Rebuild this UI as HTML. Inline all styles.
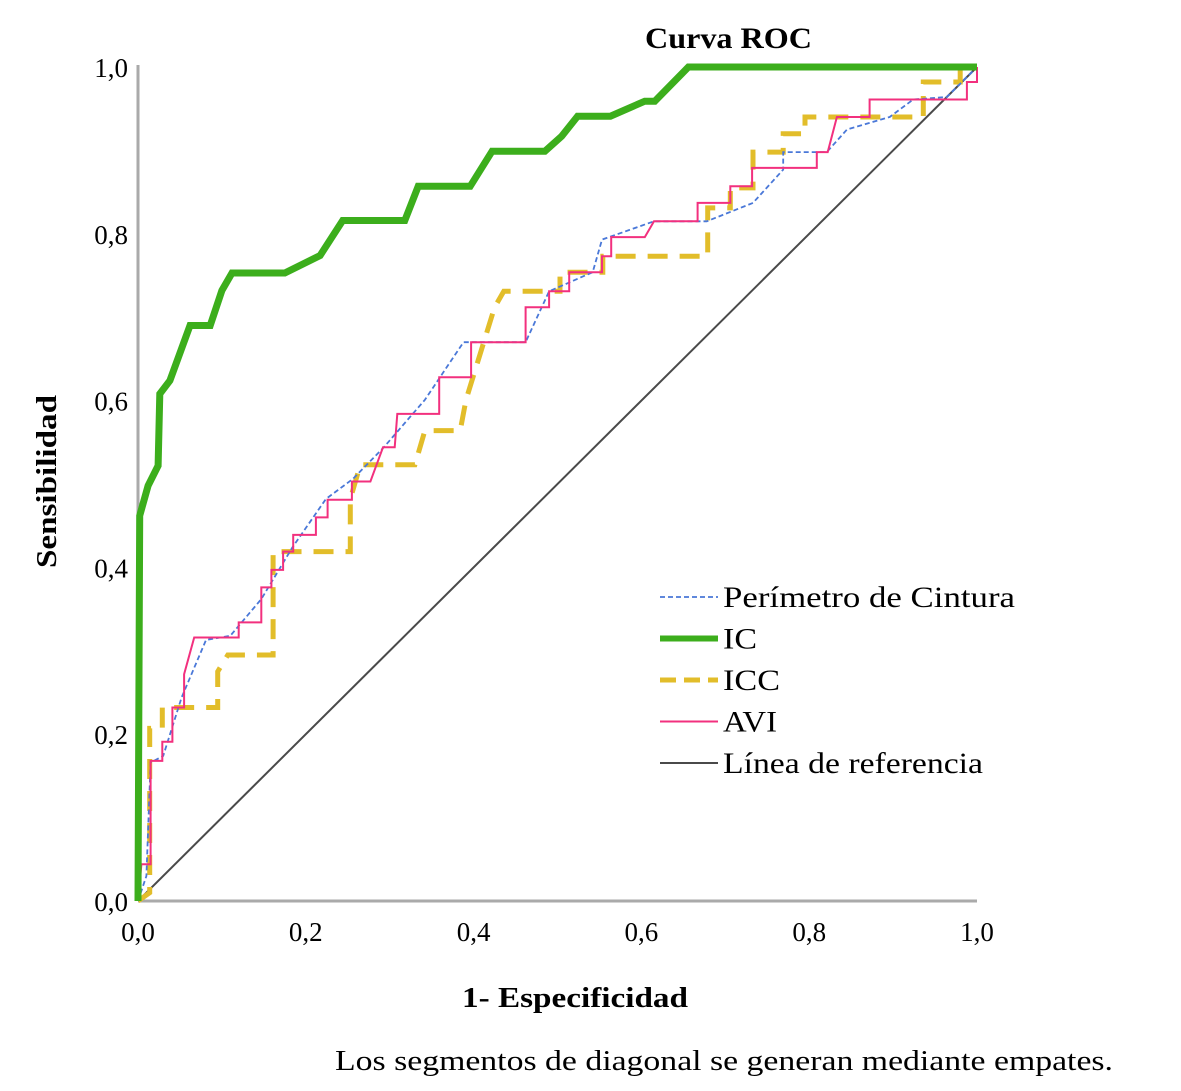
<!DOCTYPE html>
<html><head><meta charset="utf-8"><style>
body{margin:0;background:#fff;}
svg{display:block;font-family:"Liberation Serif",serif;}
</style></head><body>
<svg id="chart" width="1181" height="1091" viewBox="0 0 1181 1091"></svg>
<script>
const xTicks=[0,0.2,0.4,0.6,0.8,1.0];
const yTicks=[0,0.2,0.4,0.6,0.8,1.0];
const tickLabels=["0,0","0,2","0,4","0,6","0,8","1,0"];
const seriesNames=["Perímetro de Cintura","IC","ICC","AVI","Línea de referencia"];
const icX=[0,0.002,0.012,0.024,0.026,0.038,0.062,0.086,0.100,0.112,0.175,0.217,0.244,0.318,0.334,0.396,0.422,0.485,0.505,0.524,0.563,0.604,0.616,0.656,1];
const icY=[0,0.462,0.498,0.522,0.608,0.624,0.690,0.690,0.732,0.753,0.753,0.774,0.816,0.816,0.857,0.857,0.899,0.899,0.917,0.941,0.941,0.959,0.959,1,1];
const aviX=[0,0.004,0.015,0.015,0.029,0.029,0.041,0.041,0.055,0.055,0.067,0.120,0.120,0.147,0.147,0.159,0.159,0.173,0.173,0.185,0.185,0.212,0.212,0.226,0.226,0.255,0.255,0.277,0.292,0.306,0.309,0.359,0.359,0.397,0.397,0.462,0.462,0.490,0.490,0.514,0.514,0.553,0.553,0.564,0.564,0.604,0.615,0.667,0.667,0.706,0.706,0.732,0.732,0.809,0.809,0.822,0.833,0.872,0.872,0.988,0.988,1,1];
const aviY=[0,0.044,0.044,0.168,0.168,0.191,0.191,0.232,0.232,0.272,0.316,0.316,0.334,0.334,0.376,0.376,0.397,0.397,0.419,0.419,0.439,0.439,0.460,0.460,0.481,0.481,0.503,0.503,0.544,0.544,0.584,0.584,0.628,0.628,0.670,0.670,0.712,0.712,0.731,0.731,0.754,0.754,0.773,0.773,0.796,0.796,0.815,0.815,0.837,0.837,0.857,0.857,0.879,0.879,0.898,0.898,0.940,0.940,0.961,0.961,0.982,0.982,1];
const pcX=[0,0.010,0.015,0.030,0.052,0.081,0.110,0.147,0.184,0.224,0.256,0.293,0.342,0.388,0.462,0.490,0.542,0.553,0.615,0.678,0.733,0.769,0.769,0.821,0.845,0.896,0.924,0.964,1];
const pcY=[0,0.03,0.166,0.174,0.244,0.313,0.318,0.362,0.424,0.482,0.506,0.544,0.601,0.670,0.670,0.731,0.754,0.793,0.815,0.815,0.837,0.877,0.898,0.898,0.925,0.940,0.961,0.964,1];
const iccX=[0,0.014,0.014,0.029,0.029,0.095,0.095,0.107,0.161,0.161,0.253,0.253,0.265,0.330,0.342,0.384,0.391,0.425,0.436,0.503,0.503,0.554,0.554,0.679,0.679,0.706,0.706,0.733,0.733,0.769,0.769,0.795,0.795,0.936,0.936,0.980,0.980,1];
const iccY=[0,0.01,0.207,0.207,0.232,0.232,0.275,0.295,0.295,0.419,0.419,0.482,0.523,0.523,0.564,0.564,0.601,0.712,0.731,0.731,0.754,0.754,0.773,0.773,0.831,0.831,0.855,0.855,0.898,0.898,0.920,0.920,0.940,0.940,0.982,0.982,1,1];
const refX=[0,1], refY=[0,1];

const X0=138,X1=977,Y0=901,Y1=67;
const sx=v=>X0+v*(X1-X0), sy=v=>Y0-v*(Y0-Y1);
const NS="http://www.w3.org/2000/svg";
const svg=document.getElementById('chart');
function mk(tag,attrs,parent){const e=document.createElementNS(NS,tag);for(const k in attrs)e.setAttribute(k,attrs[k]);(parent||svg).appendChild(e);return e;}
function txt(s,attrs,parent){const e=mk('text',attrs,parent);e.textContent=s;return e;}

let t=txt("Curva ROC",{x:645,y:48,"font-size":30,"font-weight":"bold",textLength:167,lengthAdjust:"spacingAndGlyphs"});



const ax=mk('line',{x1:X0,y1:Y1-2,x2:X0,y2:Y0,stroke:"#aaa","stroke-width":3});


const axx=mk('line',{x1:X0,y1:Y0,x2:X1,y2:Y0,stroke:"#aaa","stroke-width":3});



yTicks.forEach((v,i)=>{const e=txt(tickLabels[i],{x:128,y:sy(v)+10,"text-anchor":"end","font-size":27});

});
xTicks.forEach((v,i)=>{const e=txt(tickLabels[i],{x:sx(v),y:941,"text-anchor":"middle","font-size":27});

});

t=txt("Sensibilidad",{x:-568,y:56,transform:"rotate(-90)","font-size":29,"font-weight":"bold",textLength:173,lengthAdjust:"spacingAndGlyphs"});


t=txt("1- Especificidad",{x:462,y:1007,"font-size":29,"font-weight":"bold",textLength:226,lengthAdjust:"spacingAndGlyphs"});


t=txt("Los segmentos de diagonal se generan mediante empates.",{x:335,y:1070,"font-size":29,textLength:778,lengthAdjust:"spacingAndGlyphs"});



function pts(xs,ys){return xs.map((x,i)=>sx(x).toFixed(1)+","+sy(ys[i]).toFixed(1)).join(" ");}
const styles=[
 {xs:pcX,ys:pcY,stroke:"#4a78d8",w:1.8,dash:"5,3",name:"perimetro-cintura-curve"},
 {xs:icX,ys:icY,stroke:"#3cae1c",w:7,dash:"",name:"ic-curve"},
 {xs:iccX,ys:iccY,stroke:"#e2bd2a",w:5,dash:"20,12",name:"icc-curve"},
 {xs:aviX,ys:aviY,stroke:"#f2307e",w:2,dash:"",name:"avi-curve"},
 {xs:refX,ys:refY,stroke:"#4a4a4a",w:2,dash:"",name:"reference-line"}];
const legendLen=[292,34,57,54,260];
const order=[4,2,0,3,1];
order.forEach(i=>{const s=styles[i];
 const p=mk('polyline',{points:pts(s.xs,s.ys),fill:"none",stroke:s.stroke,"stroke-width":s.w,"stroke-dasharray":s.dash,"stroke-linejoin":"miter"});
 
 });

seriesNames.forEach((n,i)=>{const y=597+i*41.5;const s=styles[i];
 const g=mk('g',{});
 
 
 mk('line',{x1:660,y1:y,x2:718,y2:y,stroke:s.stroke,"stroke-width":s.w==7?6:s.w,"stroke-dasharray":s.dash?(s.w>3?"16,8":"5,3"):""},g);
 txt(n,{x:723,y:y+10,"font-size":30,textLength:legendLen[i],lengthAdjust:"spacingAndGlyphs"},g);});
</script>
</body></html>
